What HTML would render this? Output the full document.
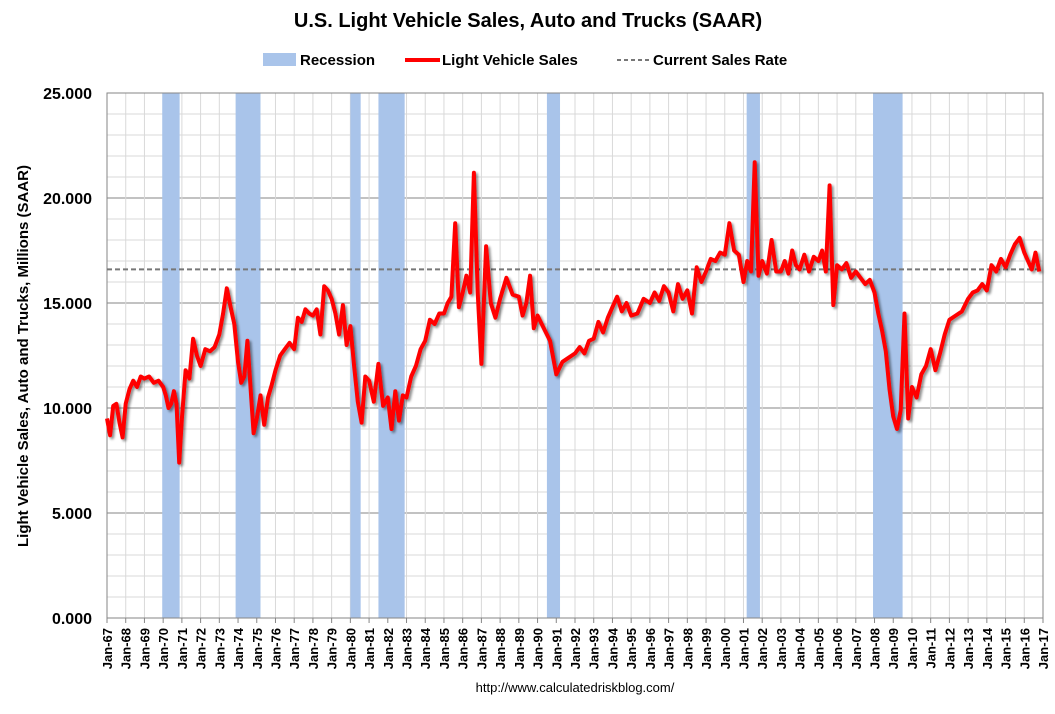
<!DOCTYPE html>
<html><head><meta charset="utf-8"><style>
body{margin:0;background:#fff;}
svg text{font-family:"Liberation Sans",Arial,sans-serif;}
</style></head><body>
<svg id="chart" width="1055" height="709" xmlns="http://www.w3.org/2000/svg">
<defs><filter id="sh" x="-5%" y="-5%" width="110%" height="110%"><feDropShadow dx="2" dy="2" stdDeviation="1.2" flood-color="#000" flood-opacity="0.45"/></filter></defs>
<text x="528" y="27" text-anchor="middle" font-size="20" font-weight="bold">U.S. Light Vehicle Sales, Auto and Trucks (SAAR)</text>
<g>
<rect x="263" y="53" width="33" height="13" fill="#a9c4ea"/>
<text x="300" y="65" font-size="15" font-weight="bold">Recession</text>
<line x1="405" y1="60" x2="440" y2="60" stroke="#f00" stroke-width="4"/>
<text x="442" y="65" font-size="15" font-weight="bold">Light Vehicle Sales</text>
<line x1="617" y1="60" x2="651" y2="60" stroke="#777" stroke-width="2" stroke-dasharray="4,3"/>
<text x="653" y="65" font-size="15" font-weight="bold">Current Sales Rate</text>
</g>
<text transform="translate(28,356) rotate(-90)" text-anchor="middle" font-size="15" font-weight="bold">Light Vehicle Sales, Auto and Trucks, Millions (SAAR)</text>
<text x="575" y="692" text-anchor="middle" font-size="13">http://www.calculatedriskblog.com/</text>
<g id="plot"></g>
</svg>
<script>
const startYear = 1967, endYear = 2017;
const yTicks = [0, 5, 10, 15, 20, 25];
const recessionStarts = [1969.95, 1973.87, 1980.0, 1981.5, 1990.5, 2001.17, 2007.92];
const recessionEnds = [1970.88, 1975.2, 1980.55, 1982.9, 1991.2, 2001.88, 2009.5];
const currentRate = 16.6;
const salesByYear = [
 [9.5,8.7,10.1,10.2,9.3,8.6],
 [10.2,10.9,11.3,11.0,11.5],
 [11.4,11.5,11.2,11.3],
 [11.0,10.6,10.0,10.2,10.8,10.2,7.4],
 [9.5,11.8,11.4,13.3,12.5],
 [12.0,12.8,12.7,12.9],
 [13.5,14.5,15.7,14.8,14.0],
 [12.2,11.2,11.5,13.2,11.0,8.8],
 [9.5,10.6,9.2,10.5,11.1],
 [11.8,12.5,12.8,13.1],
 [12.8,14.3,14.1,14.7,14.5],
 [14.4,14.7,13.5,15.8,15.6],
 [15.2,14.5,13.5,14.9,13.0],
 [13.9,12.0,10.3,9.3,11.5],
 [11.3,10.3,12.1,10.1],
 [10.5,9.0,10.8,9.4,10.6],
 [10.5,11.5,12.0,12.8],
 [13.2,14.2,14.0,14.5],
 [14.5,15.0,15.3,18.8,14.8],
 [15.5,16.3,15.5,21.2,15.5],
 [12.1,17.7,15.0,14.3],
 [15.2,16.2,15.4],
 [15.3,14.4,15.0,16.3,13.8],
 [14.4,13.8,13.2],
 [11.6,12.2,12.4],
 [12.6,12.9,12.6,13.2],
 [13.3,14.1,13.6,14.3],
 [14.8,15.3,14.6,15.0],
 [14.4,14.5,15.2],
 [15.0,15.5,15.1,15.8],
 [15.5,14.6,15.9,15.2],
 [15.6,14.5,16.7,16.0],
 [16.5,17.1,17.0,17.4],
 [17.3,18.8,17.5,17.3],
 [16.0,17.0,16.5,21.7,16.3],
 [17.0,16.4,18.0,16.5],
 [16.5,17.0,16.4,17.5,16.8],
 [16.6,17.3,16.5,17.2],
 [17.0,17.5,16.5,20.6,14.9],
 [16.8,16.6,16.9,16.2],
 [16.5,16.2,15.9,16.1],
 [15.5,14.5,13.7,12.7,10.9],
 [9.6,9.0,9.9,14.5,9.5],
 [11.0,10.5,11.6,12.0],
 [12.8,11.8,12.6,13.5],
 [14.2,14.4,14.6],
 [15.2,15.5,15.6,15.9],
 [15.6,16.8,16.5,17.1],
 [16.7,17.3,17.8,18.1],
 [17.4,17.0,16.6,17.4,16.5]
];
const L=107,R=1043,T=93,B=618,NS="http://www.w3.org/2000/svg";
const xS=y=>L+(y-startYear)/(endYear-startYear)*(R-L);
const yS=v=>B-v/25*(B-T);
const g=document.getElementById('plot');
function mk(t,a){const e=document.createElementNS(NS,t);for(const k in a)e.setAttribute(k,a[k]);g.appendChild(e);return e;}
// gridlines
for(let v=0;v<=25;v++){const e=mk('line',{x1:L,x2:R,y1:yS(v),y2:yS(v),stroke:v%5?'#d9d9d9':'#868686','stroke-width':1});

}
for(let y=startYear+1;y<=endYear;y++){const e=mk('line',{x1:xS(y),x2:xS(y),y1:T,y2:B,stroke:'#d9d9d9','stroke-width':1});

}
// recessions
recessionStarts.forEach((s,i)=>{const e=mk('rect',{x:xS(s),y:T,width:xS(recessionEnds[i])-xS(s),height:B-T,fill:'#a9c4ea'});

});
// axes
let a=mk('rect',{x:L,y:T,width:R-L,height:B-T,fill:'none',stroke:'#868686'});


yTicks.forEach(v=>{const t=mk('text',{x:92,y:yS(v)+6,'text-anchor':'end','font-size':16,'font-weight':'bold'});t.textContent=v.toFixed(3);

});
for(let y=startYear;y<=endYear;y++){const x=xS(y);
const tk=mk('line',{x1:x,x2:x,y1:B,y2:B+5,stroke:'#868686'});


const t=mk('text',{transform:`translate(${x+5},628) rotate(-90)`,'text-anchor':'end','font-size':13,'font-weight':'bold'});
t.textContent='Jan-'+String(y%100).padStart(2,'0');

}
// current rate
const cr=mk('line',{x1:L,x2:R,y1:yS(currentRate),y2:yS(currentRate),stroke:'#777','stroke-width':2,'stroke-dasharray':'5,3'});


// sales line
const pts=[];
salesByYear.forEach((arr,i)=>arr.forEach((v,j)=>pts.push(xS(startYear+i+j/arr.length).toFixed(1)+','+yS(v).toFixed(1))));
const pl=mk('polyline',{points:pts.join(' '),fill:'none',stroke:'#f00','stroke-width':4,'stroke-linejoin':'round',filter:'url(#sh)'});


</script>
</body></html>
